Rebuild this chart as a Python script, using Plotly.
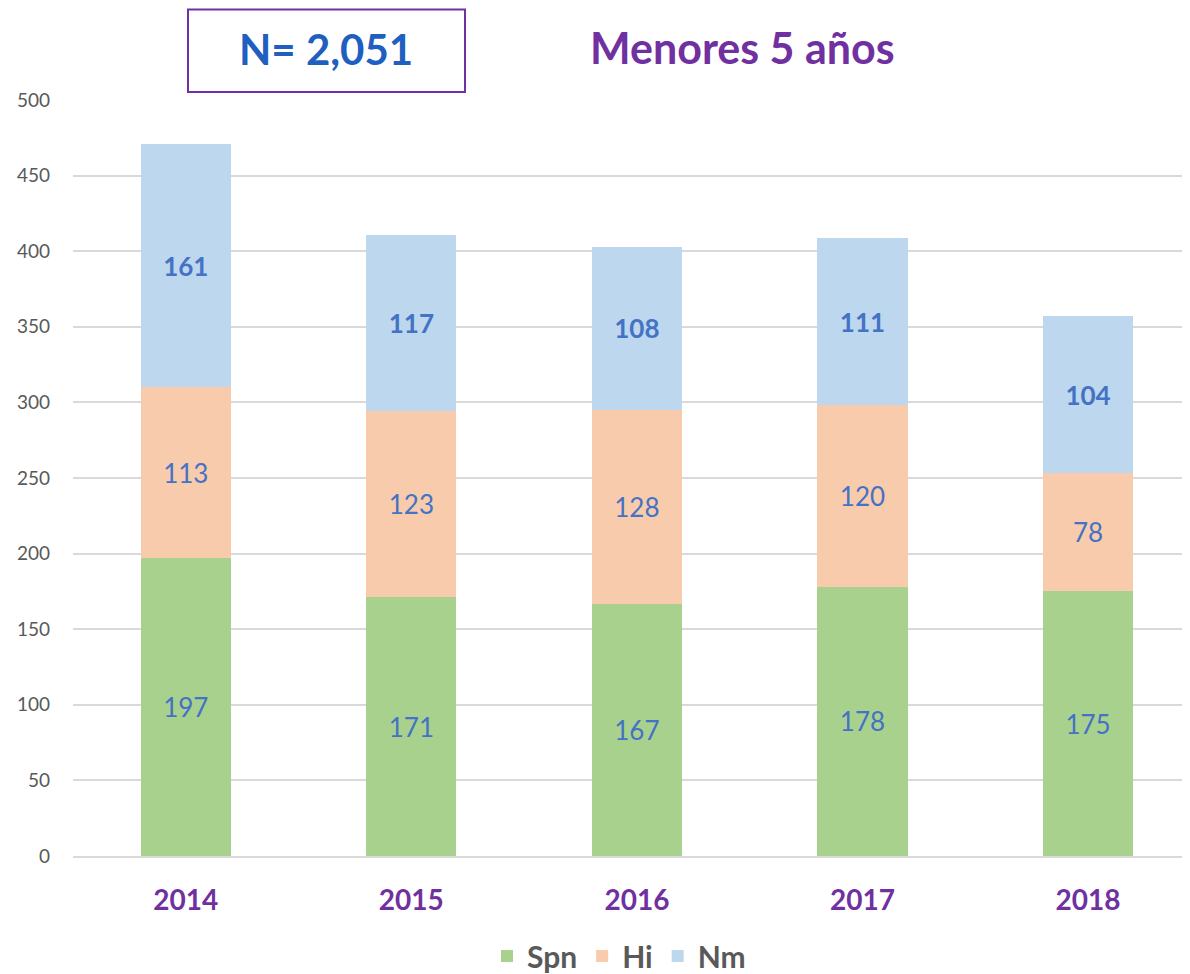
import plotly.graph_objects as go

years = ["2014", "2015", "2016", "2017", "2018"]
spn = [197, 171, 167, 178, 175]
hi = [113, 123, 128, 120, 78]
nm = [161, 117, 108, 111, 104]

FONT = "Lato"
LABEL_COLOR = "#4472C4"

W, H = 1182, 974
L, T, B = 65, 92, 126
PW, PH = W - L, H - T - B

fig = go.Figure()
series = [
    ("Spn", spn, "#A9D18E", False),
    ("Hi", hi, "#F8CBAD", False),
    ("Nm", nm, "#BDD7EE", True),
]
for name, vals, color, bold in series:
    fig.add_trace(go.Bar(
        x=years, y=vals, name=name,
        marker=dict(color=color, line=dict(width=0)),
        text=[f"<b>{v}</b>" if bold else str(v) for v in vals],
        textposition="inside", insidetextanchor="middle",
        textfont=dict(family=FONT, size=26, color=LABEL_COLOR),
        textangle=0,
        hoverinfo="skip",
    ))


# pixel positions (screen) converted to paper coordinates
def px_x(x):
    return (x - 8 - L) / PW


def px_y(y):
    return (T + PH - (y - 8)) / PH


fig.update_layout(
    barmode="stack", bargap=0.6,
    width=W, height=H,
    margin=dict(l=L, r=0, t=T, b=B),
    plot_bgcolor="white", paper_bgcolor="white",
    font=dict(family=FONT),
    uniformtext=dict(minsize=10, mode="show"),
    legend=dict(
        orientation="h", xref="container", yref="container",
        x=611 / W, xanchor="center", y=0.0, yanchor="bottom",
        font=dict(family=FONT, size=30, color="#595959", weight="bold"),
        itemwidth=30, traceorder="normal",
    ),
    showlegend=True,
)
fig.update_xaxes(
    type="category", range=[-0.5, 4.452],
    showgrid=False, showline=True, linecolor="#D9D9D9", linewidth=2,
    ticks="", ticklabelstandoff=18,
    tickfont=dict(family=FONT, size=28, color="#7030A0", weight="bold"),
)
fig.update_yaxes(
    range=[0, 500], dtick=50, showgrid=True, gridcolor="#D9D9D9", gridwidth=1.5,
    zeroline=False, showline=False, ticks="", ticklabelstandoff=22,
    tickfont=dict(family=FONT, size=19, color="#595959"),
)

fig.add_annotation(
    xref="paper", yref="paper", x=px_x(742), y=px_y(47),
    text="<b>Menores 5 años</b>", showarrow=False,
    font=dict(family=FONT, size=43, color="#7030A0"),
    xanchor="center", yanchor="middle",
)
fig.add_shape(
    type="rect", xref="paper", yref="paper",
    x0=px_x(188), x1=px_x(465), y0=px_y(92), y1=px_y(9.5),
    line=dict(color="#7030A0", width=2), fillcolor="white", layer="above",
)
fig.add_annotation(
    xref="paper", yref="paper", x=px_x(326), y=px_y(49),
    text="<b>N= 2,051</b>", showarrow=False,
    font=dict(family=FONT, size=42, color="#1F5FBF"),
    xanchor="center", yanchor="middle",
)

fig.write_html("out.html")
